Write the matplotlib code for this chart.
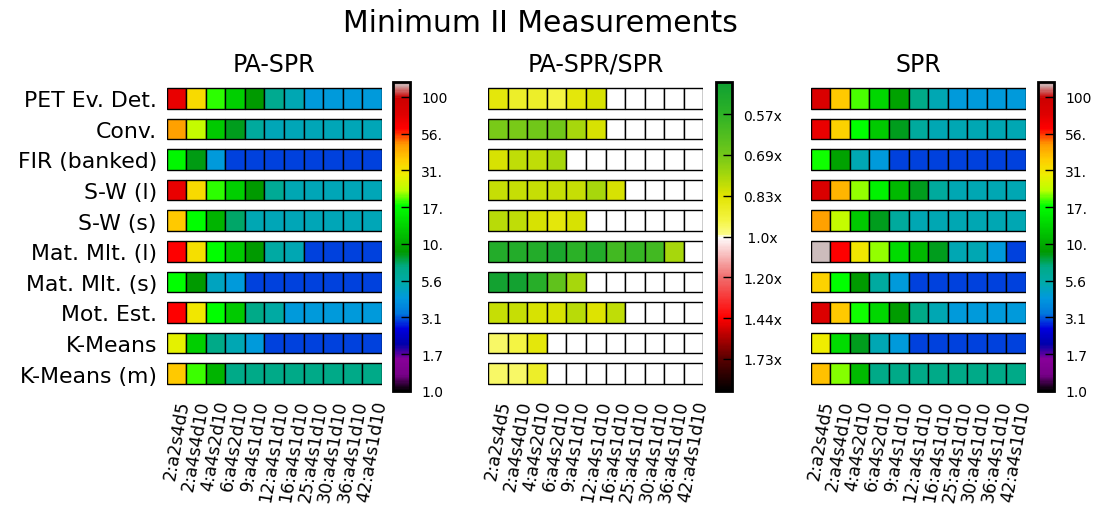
import numpy as np
import matplotlib
matplotlib.use("Agg")
import matplotlib.pyplot as plt
from matplotlib.colors import LogNorm, LinearSegmentedColormap
from matplotlib.cm import ScalarMappable

kernels = ["PET Ev. Det.", "Conv.", "FIR (banked)", "S-W (l)", "S-W (s)",
           "Mat. Mlt. (l)", "Mat. Mlt. (s)", "Mot. Est.", "K-Means", "K-Means (m)"]
configs = ["2:a2s4d5", "2:a4s4d10", "4:a4s2d10", "6:a4s2d10", "9:a4s1d10",
           "12:a4s1d10", "16:a4s1d10", "25:a4s1d10", "30:a4s1d10",
           "36:a4s1d10", "42:a4s1d10"]

pa_spr = [
    [70.5, 34.1, 19.1, 13.0, 8.9, 6.6, 5.2, 4.3, 4.3, 4.3, 4.3],
    [45.6, 24.3, 12.4, 8.4, 6.0, 5.1, 5.1, 5.1, 5.1, 5.1, 5.1],
    [17.3, 8.6, 4.3, 3.0, 3.0, 3.0, 3.0, 3.0, 3.0, 3.0, 3.0],
    [70.5, 34.1, 19.1, 13.0, 8.8, 6.3, 5.2, 5.1, 5.1, 5.1, 5.1],
    [37.6, 18.2, 10.7, 7.3, 5.2, 5.1, 5.1, 5.1, 5.1, 5.1, 5.1],
    [61.0, 32.5, 18.2, 12.4, 8.8, 5.7, 5.2, 3.0, 3.0, 3.0, 3.0],
    [18.2, 8.8, 4.9, 4.3, 3.0, 3.0, 3.0, 3.0, 3.0, 3.0, 3.0],
    [61.0, 31.0, 18.2, 12.4, 6.9, 5.7, 4.3, 4.3, 4.3, 4.3, 4.3],
    [28.1, 13.0, 6.9, 5.2, 4.3, 3.0, 3.0, 3.0, 3.0, 3.0, 3.0],
    [37.6, 19.6, 10.7, 6.9, 6.9, 6.9, 6.9, 6.9, 6.9, 6.9, 6.9],
]

spr = [
    [81.5, 37.6, 20.0, 13.6, 9.3, 6.9, 5.2, 4.3, 4.3, 4.3, 4.3],
    [70.5, 35.8, 18.2, 12.4, 8.4, 6.0, 5.2, 5.2, 5.2, 5.2, 5.2],
    [18.6, 9.3, 5.2, 4.3, 3.0, 3.0, 3.0, 3.0, 3.0, 3.0, 3.0],
    [81.5, 41.4, 22.1, 16.5, 11.2, 8.4, 6.0, 5.2, 5.2, 5.2, 5.2],
    [45.6, 24.3, 12.4, 8.4, 6.0, 5.2, 5.2, 5.2, 5.2, 5.2, 5.2],
    [122.9, 61.0, 31.0, 22.1, 14.3, 11.2, 8.4, 5.2, 5.2, 4.3, 3.0],
    [35.8, 18.2, 8.8, 5.8, 4.3, 3.0, 3.0, 3.0, 3.0, 3.0, 3.0],
    [77.6, 37.6, 18.6, 13.6, 9.0, 6.9, 5.2, 4.3, 4.3, 4.3, 4.3],
    [29.5, 14.3, 8.4, 5.2, 4.3, 3.0, 3.0, 3.0, 3.0, 3.0, 3.0],
    [39.4, 21.6, 11.2, 6.9, 6.9, 6.9, 6.9, 6.9, 6.9, 6.9, 6.9],
]

nan = np.nan
ratio = [
    [0.85, 0.89, 0.89, 0.93, 0.85, 0.82, nan, nan, nan, nan, nan],
    [0.70, 0.70, 0.69, 0.69, 0.76, 0.82, nan, nan, nan, nan, nan],
    [0.82, 0.79, 0.79, 0.76, nan, nan, nan, nan, nan, nan, nan],
    [0.80, 0.80, 0.80, 0.80, 0.80, 0.76, 0.82, nan, nan, nan, nan],
    [0.78, 0.79, 0.82, 0.85, 0.82, nan, nan, nan, nan, nan, nan],
    [0.55, 0.55, 0.55, 0.53, 0.57, 0.55, 0.61, 0.59, 0.61, 0.76, nan],
    [0.51, 0.51, 0.56, 0.66, 0.76, nan, nan, nan, nan, nan, nan],
    [0.80, 0.80, 0.82, 0.82, 0.78, 0.83, 0.79, nan, nan, nan, nan],
    [0.96, 0.93, 0.85, nan, nan, nan, nan, nan, nan, nan, nan],
    [0.96, 0.96, 0.89, nan, nan, nan, nan, nan, nan, nan, nan],
]

abs_ticks = [10 ** (k / 4) for k in range(9)]
abs_labels = ["1.0", "1.7", "3.1", "5.6", "10.", "17.", "31.", "56.", "100"]
rel_ticks = [3 ** (k / 6) for k in range(-3, 4)]
rel_labels = ["0.57x", "0.69x", "0.83x", " 1.0x", "1.20x", "1.44x", "1.73x"]

# colour maps
abs_cmap = plt.get_cmap("nipy_spectral").copy()
abs_norm = LogNorm(vmin=1.0, vmax=125.9)

rel_stops = [
    (0.000, (15, 160, 50)),
    (0.100, (45, 178, 38)),
    (0.236, (115, 200, 25)),
    (0.300, (165, 215, 12)),
    (0.368, (225, 228, 0)),
    (0.450, (245, 245, 70)),
    (0.495, (252, 252, 140)),
    (0.500, (255, 255, 255)),
    (0.632, (240, 110, 110)),
    (0.764, (255, 0, 0)),
    (0.896, (90, 0, 0)),
    (1.000, (0, 0, 0)),
]
rel_cmap = LinearSegmentedColormap.from_list(
    "gain", [(p, tuple(c / 255 for c in rgb)) for p, rgb in rel_stops])
rel_cmap.set_bad("white")
rel_norm = LogNorm(vmin=0.5, vmax=2.0)

W, H = 1099, 506
fig = plt.figure(figsize=(W / 100, H / 100), dpi=100)


def fx(px):
    return px / W


def fy(py):
    return 1 - py / H


def heat(ax, data, cmap, norm, title, show_rows):
    data = np.ma.masked_invalid(np.array(data, dtype=float))
    cols = np.arange(len(configs))
    h = 0.67
    for i in range(len(kernels)):
        colors = cmap(norm(data[i]))
        ax.bar(cols, h, bottom=i - h / 2, width=1.0, color=colors,
               edgecolor="black", linewidth=1.0)
    ax.set_xlim(-0.5, len(configs) - 0.5)
    ax.set_ylim(len(kernels) - 0.5, -0.5)
    for s in ax.spines.values():
        s.set_visible(False)
    ax.set_xticks(cols)
    ax.set_xticklabels(configs, rotation=80, fontsize=12.5)
    ax.tick_params(axis="x", length=0, pad=7)
    ax.set_yticks(np.arange(len(kernels)))
    if show_rows:
        ax.set_yticklabels(kernels, fontsize=15.8)
        ax.tick_params(axis="y", length=0, pad=7)
    else:
        ax.set_yticklabels([])
        ax.tick_params(axis="y", length=0)
    ax.set_title(title, fontsize=17, pad=9)


def cbar(cax, cmap, norm, ticks, labels, invert=False):
    cb = fig.colorbar(ScalarMappable(norm=norm, cmap=cmap), cax=cax)
    cb.set_ticks(ticks)
    cb.set_ticklabels(labels)
    cb.minorticks_off()
    cax.yaxis.set_minor_locator(matplotlib.ticker.NullLocator())
    cax.tick_params(axis="y", direction="in", length=6.5, width=1.0,
                    color="black", labelsize=10, pad=8)
    cb.outline.set_linewidth(2.0)
    if invert:
        cax.invert_yaxis()
    return cb


ax_top, ax_bot = 84, 390
cb_top, cb_bot = 83, 392
panels = [
    (166.7, 381.7, 393.3, 410.0),
    (488.3, 703.3, 716.0, 732.0),
    (810.7, 1026.0, 1037.7, 1054.3),
]

axes = []
for (x0, x1, c0, c1) in panels:
    ax = fig.add_axes([fx(x0), fy(ax_bot), fx(x1 - x0), (ax_bot - ax_top) / H])
    cax = fig.add_axes([fx(c0), fy(cb_bot), fx(c1 - c0), (cb_bot - cb_top) / H])
    axes.append((ax, cax))

heat(axes[0][0], pa_spr, abs_cmap, abs_norm, "PA-SPR", True)
cbar(axes[0][1], abs_cmap, abs_norm, abs_ticks, abs_labels)

heat(axes[1][0], ratio, rel_cmap, rel_norm, "PA-SPR/SPR", False)
cbar(axes[1][1], rel_cmap, rel_norm, rel_ticks, rel_labels, invert=True)

heat(axes[2][0], spr, abs_cmap, abs_norm, "SPR", False)
cbar(axes[2][1], abs_cmap, abs_norm, abs_ticks, abs_labels)

fig.text(fx(540), fy(23), "Minimum II Measurements", fontsize=21.5,
         ha="center", va="center")

fig.savefig("out.png", dpi=100)
